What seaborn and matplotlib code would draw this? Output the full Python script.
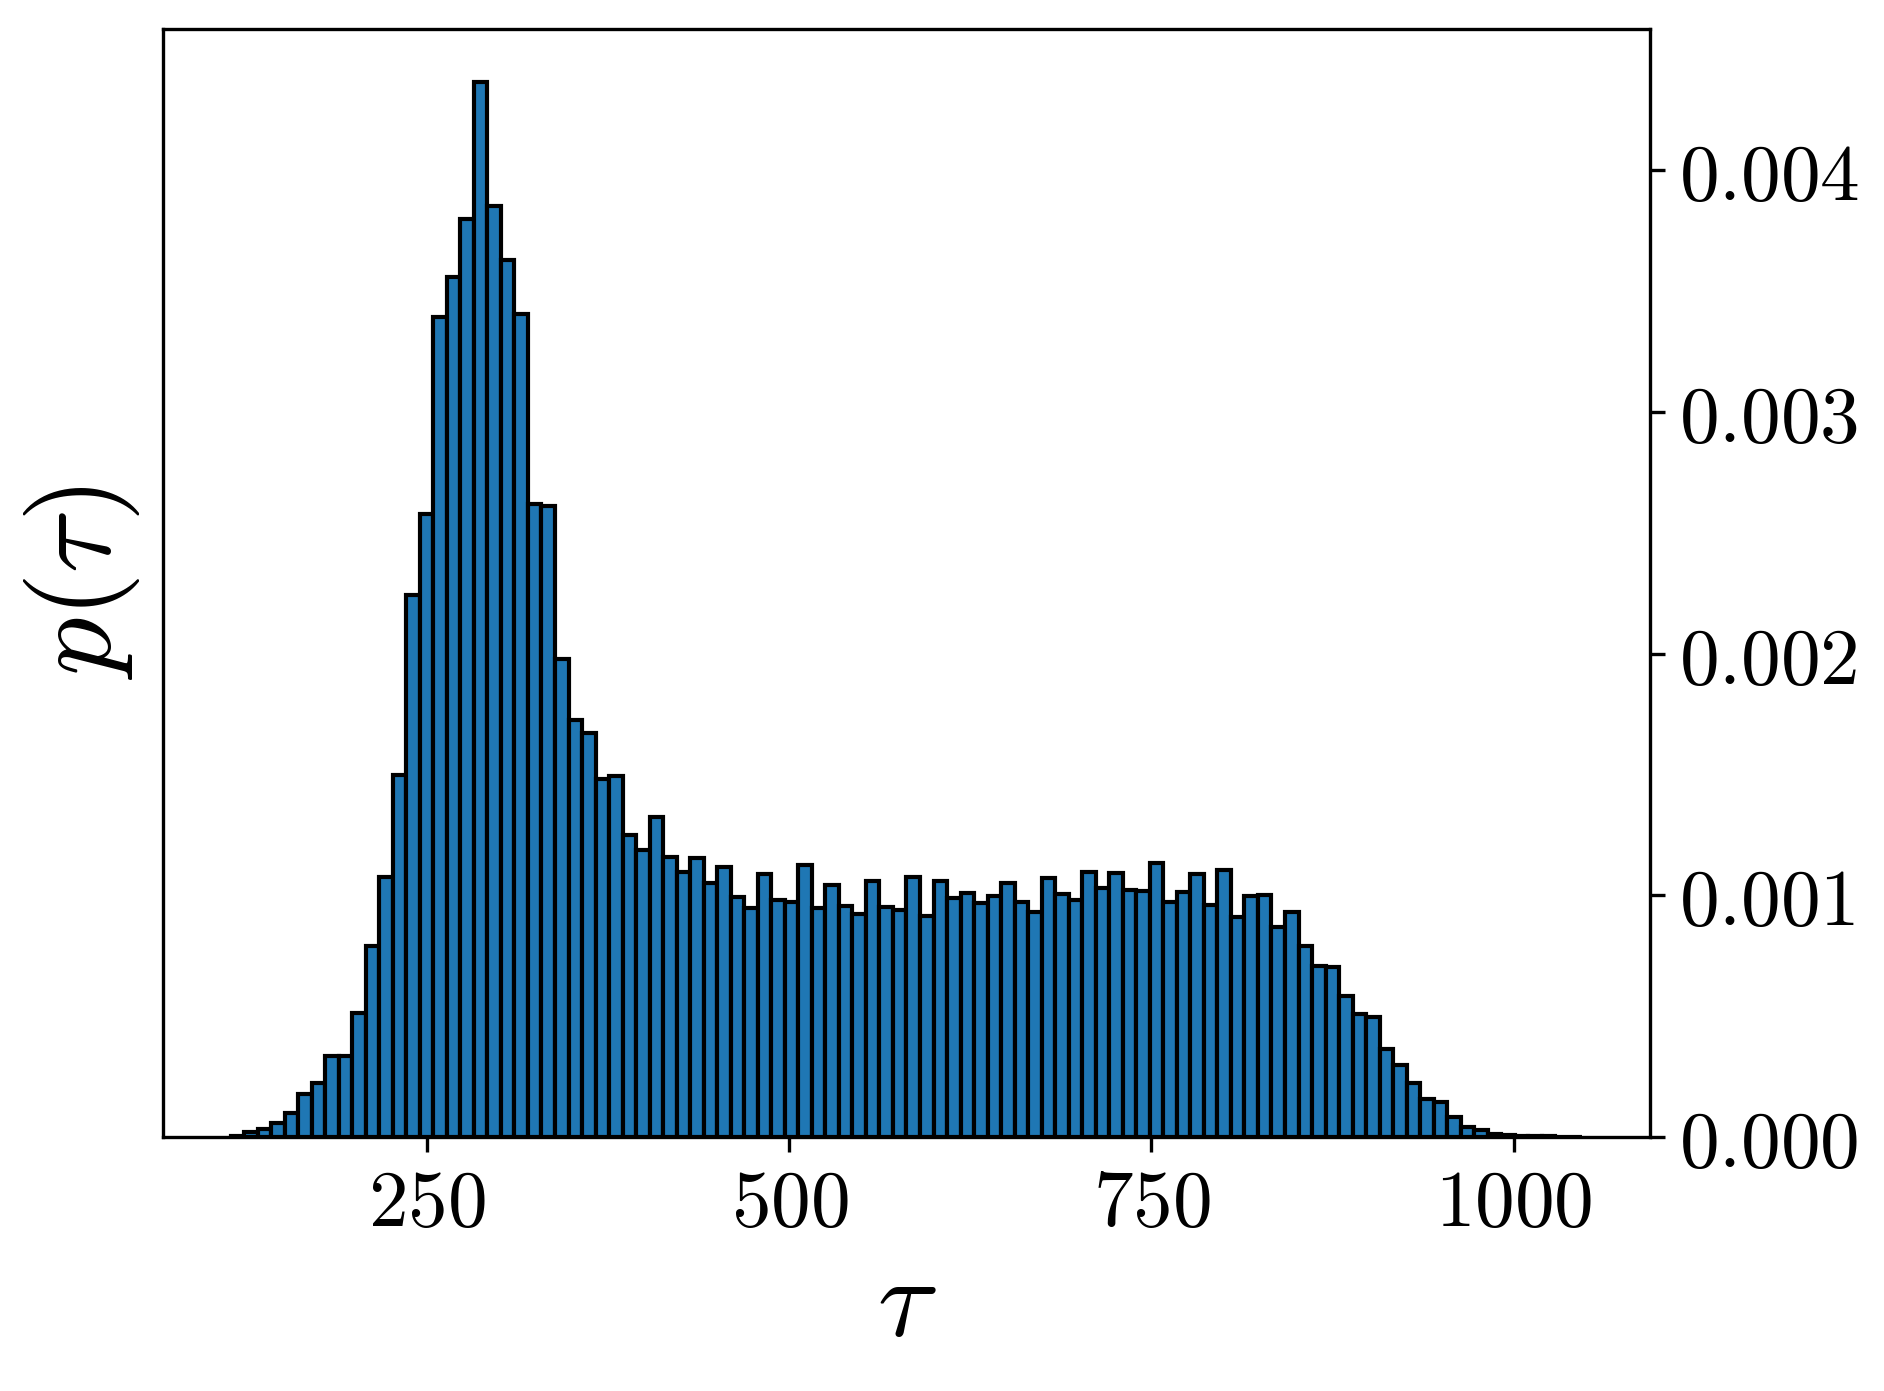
import numpy as np
import pandas as pd
import matplotlib
matplotlib.use("Agg")
import matplotlib.pyplot as plt
from matplotlib.ticker import FuncFormatter
import seaborn as sns

# ---- data ----
tau_min = 114.2
tau_max = 1047.5
n_bins = 100
# probability density per bin (units of 1e-3)
density_e3 = [
    0.006, 0.022, 0.032, 0.060, 0.100, 0.176, 0.225, 0.337, 0.337, 0.512,
    0.790, 1.075, 1.497, 2.243, 2.578, 3.395, 3.559, 3.800, 4.367, 3.853,
    3.631, 3.406, 2.619, 2.612, 1.976, 1.725, 1.672, 1.481, 1.493, 1.248,
    1.187, 1.323, 1.158, 1.096, 1.154, 1.050, 1.116, 0.992, 0.946, 1.087,
    0.980, 0.971, 1.125, 0.946, 1.042, 0.955, 0.922, 1.058, 0.951, 0.938,
    1.075, 0.913, 1.058, 0.988, 1.009, 0.967, 0.996, 1.050, 0.971, 0.930,
    1.071, 1.004, 0.980, 1.096, 1.029, 1.091, 1.021, 1.017, 1.133, 0.971,
    1.013, 1.087, 0.959, 1.104, 0.910, 0.996, 1.002, 0.868, 0.930, 0.789,
    0.706, 0.702, 0.582, 0.508, 0.497, 0.363, 0.297, 0.222, 0.157, 0.145,
    0.082, 0.043, 0.027, 0.012, 0.009, 0.006, 0.005, 0.003, 0.002, 0.002,
]
x_ticks = [250, 500, 750, 1000]
y_ticks = [0.000, 0.001, 0.002, 0.003, 0.004]
x_label = r"$\tau$"
y_label = r"$p(\tau)$"

edges = np.linspace(tau_min, tau_max, n_bins + 1)
centers = 0.5 * (edges[:-1] + edges[1:])
density = np.array(density_e3) * 1e-3
df = pd.DataFrame({"tau": centers, "p": density})

plt.rcParams["mathtext.fontset"] = "cm"
plt.rcParams["font.family"] = ["DejaVu Serif"]

fig = plt.figure(figsize=(6.28, 4.6367), dpi=300)
ax = fig.add_axes([0.0865, 0.1826, 0.7893, 0.7966])

sns.histplot(data=df, x="tau", weights="p", bins=n_bins,
             binrange=(tau_min, tau_max), stat="count",
             color="#1f77b4", alpha=1.0, edgecolor="black", linewidth=1.0,
             ax=ax)

ax.yaxis.tick_right()
ax.yaxis.set_label_position("left")
ax.set_xticks(x_ticks)
ax.set_yticks(y_ticks)
ax.xaxis.set_major_formatter(FuncFormatter(lambda v, p: f"${v:.0f}$"))
ax.yaxis.set_major_formatter(FuncFormatter(lambda v, p: f"${v:.3f}$"))
ax.tick_params(axis="both", labelsize=19, direction="out", length=3.5, width=0.8)
ax.set_xlabel(x_label, fontsize=27, labelpad=2)
ax.set_ylabel(y_label, fontsize=28, labelpad=5)
ax.set_xlim(tau_min - 0.05 * (tau_max - tau_min), tau_max + 0.05 * (tau_max - tau_min))
ax.set_ylim(0, max(density) * 1.05)
for s in ax.spines.values():
    s.set_linewidth(0.8)

fig.savefig("out.png", dpi=300)
